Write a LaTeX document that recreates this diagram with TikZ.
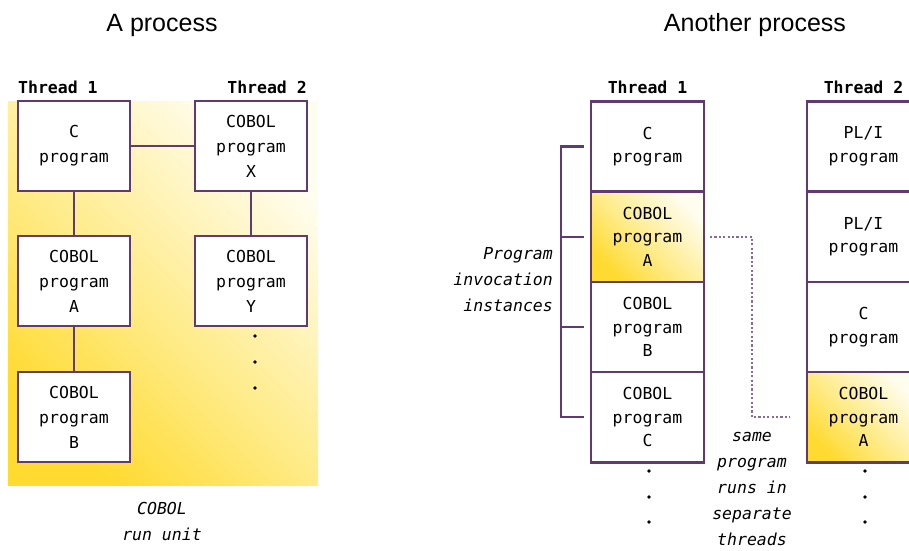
\documentclass[tikz,border=0pt]{standalone}
\usepackage{fontspec}
\setmainfont{Liberation Sans}
\setmonofont{DejaVu Sans Mono}
\usepackage{xcolor}
\usetikzlibrary{positioning}
\definecolor{progline}{RGB}{96,58,112}
\definecolor{runyellow}{RGB}{255,218,48}
\definecolor{runmid}{RGB}{255,234,130}
\definecolor{runlight}{RGB}{255,253,240}
\pgfdeclareverticalshading{rununit}{100bp}{color(0bp)=(runyellow); color(25bp)=(runyellow); color(45bp)=(runmid); color(75bp)=(runlight); color(100bp)=(runlight)}

\begin{document}
\begin{tikzpicture}[x=1pt, y=-1pt,
    prog/.style={draw=progline, line width=2.4pt, fill=white, outer sep=0pt, inner sep=2pt,
        minimum width=112pt, minimum height=90pt, align=center,
        font=\ttfamily\fontsize{16.5}{25}\selectfont},
    cell/.style={prog, minimum width=113pt, minimum height=90.25pt,
        font=\ttfamily\fontsize{16.5}{23.5}\selectfont},
    hot/.style={shade, shading=rununit, shading angle=-45},
    link/.style={draw=progline, line width=2.4pt},
    sameprog/.style={draw=progline!75, line width=2.4pt, dash pattern=on 2.2pt off 2.2pt},
    thread/.style={font=\ttfamily\bfseries\fontsize{16.5}{20}\selectfont, inner sep=0pt},
    note/.style={font=\ttfamily\itshape\fontsize{16.5}{26}\selectfont, inner sep=0pt},
    title/.style={font=\fontsize{25}{28}\selectfont}
]
    \useasboundingbox (0,0) rectangle (909,550);

    \node[title] (lefttitle) at (162,25) {A process};
    \node[title] (righttitle) at (755,25) {Another process};

    \path[hot] (8,101) rectangle (318,485);

    \node[prog] (cprog) at (74,146) {C\\program};
    \node[prog, right=65pt of cprog] (progx) {COBOL\\program\\X};
    \node[prog, below=45pt of cprog] (proga) {COBOL\\program\\A};
    \node[prog, below=45pt of progx] (progy) {COBOL\\program\\Y};
    \node[prog, below=46pt of proga] (progb) {COBOL\\program\\B};

    \draw[link] (cprog) -- (progx);
    \draw[link] (cprog) -- (proga);
    \draw[link] (proga) -- (progb);
    \draw[link] (progx) -- (progy);

    \node[thread, anchor=base west] (lt1) at ([yshift=8pt]cprog.north west) {Thread 1};
    \node[thread, anchor=base east] (lt2) at ([yshift=8pt]progx.north east) {Thread 2};

    \foreach \y in {336,362,388}
        \fill (255,\y) circle (1.8pt);

    \node[note, align=center] (rununit) at (162,521) {COBOL\\run unit};

    \node[cell] (c1) at (647.5,146.5) {C\\program};
    \node[cell, hot, below=0pt of c1] (a1) {COBOL\\program\\A};
    \node[cell, below=0pt of a1] (b1) {COBOL\\program\\B};
    \node[cell, below=0pt of b1] (cc1) {COBOL\\program\\C};

    \node[cell] (p1) at (863.5,146.5) {PL/I\\program};
    \node[cell, below=0pt of p1] (p2) {PL/I\\program};
    \node[cell, below=0pt of p2] (c2) {C\\program};
    \node[cell, hot, below=0pt of c2] (a2) {COBOL\\program\\A};

    \node[thread, anchor=base] (rt1) at ([yshift=8pt]c1.north) {Thread 1};
    \node[thread, anchor=base] (rt2) at ([yshift=8pt]p1.north) {Thread 2};

    \foreach \y in {471,497,522} {
        \fill (649,\y) circle (1.8pt);
        \fill (865,\y) circle (1.8pt);
    }

    \coordinate (spine) at (561,0);
    \draw[link] ([xshift=-7pt]c1.west) -- (c1.west -| spine) -- (cc1.west -| spine) -- ([xshift=-7pt]cc1.west);
    \foreach \n in {a1,b1}
        \draw[link] (\n.west -| spine) -- ([xshift=-7pt]\n.west);
    \node[note, align=right, anchor=east] (invoc) at (553,280) {Program\\invocation\\instances};

    \coordinate (bend) at (752,0);
    \draw[sameprog] ([xshift=6pt]a1.east) -- (a1.east -| bend) -- (a2.west -| bend) -- ([xshift=-17pt]a2.west);
    \node[note, align=center] (samenote) at (752,489) {same\\program\\runs in\\separate\\threads};
\end{tikzpicture}
\end{document}
